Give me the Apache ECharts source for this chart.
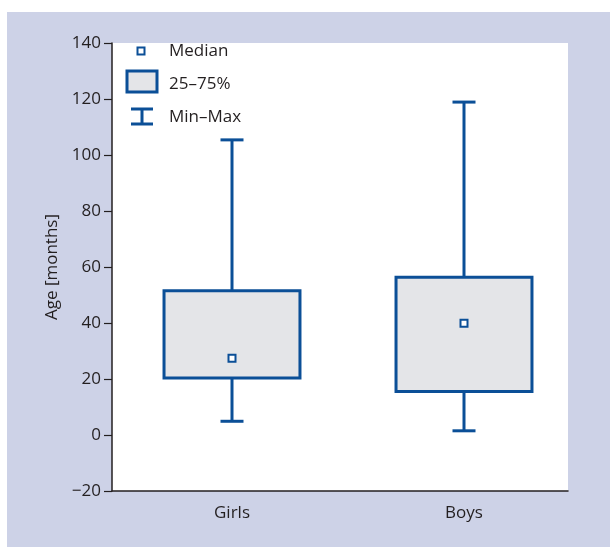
<!DOCTYPE html>
<html>
<head>
<meta charset="utf-8">
<script src="https://cdn.jsdelivr.net/npm/echarts@6/dist/echarts.min.js"></script>
<style>
  html, body { margin: 0; padding: 0; background: #fff; }
  #box { width: 610px; height: 547px; }
</style>
</head>
<body>
<div id="box"></div>
<script>
// data
var groups = ['Girls', 'Boys'];
var minVals = [4.9, 1.5];
var q1Vals = [20.4, 15.5];
var medianVals = [27.4, 39.9];
var q3Vals = [51.5, 56.3];
var maxVals = [105.4, 118.9];
var yTicks = { min: -20, max: 140, step: 20 };

var blue = '#0b4f97';
var fill = '#e4e5e8';
var ink = '#231f20';
var font = 'Open Sans';

var boxData = groups.map(function (g, i) {
    return [i, minVals[i], q1Vals[i], medianVals[i], q3Vals[i], maxVals[i]];
});

function renderBox(params, api) {
    var x = api.value(0);
    var band = api.size([1, 0])[0];
    var half = band * 0.293;
    var cap = 11.5;
    var pMin = api.coord([x, api.value(1)]);
    var pQ1 = api.coord([x, api.value(2)]);
    var pMed = api.coord([x, api.value(3)]);
    var pQ3 = api.coord([x, api.value(4)]);
    var pMax = api.coord([x, api.value(5)]);
    var cx = pMed[0];
    var line = { stroke: blue, lineWidth: 3 };
    return {
        type: 'group',
        children: [
            { type: 'line', shape: { x1: cx, y1: pQ3[1], x2: cx, y2: pMax[1] }, style: line },
            { type: 'line', shape: { x1: cx, y1: pQ1[1], x2: cx, y2: pMin[1] }, style: line },
            { type: 'line', shape: { x1: cx - cap, y1: pMax[1], x2: cx + cap, y2: pMax[1] }, style: line },
            { type: 'line', shape: { x1: cx - cap, y1: pMin[1], x2: cx + cap, y2: pMin[1] }, style: line },
            { type: 'rect', shape: { x: cx - half, y: pQ3[1], width: half * 2, height: pQ1[1] - pQ3[1] },
              style: { fill: fill, stroke: blue, lineWidth: 3 } },
            { type: 'rect', shape: { x: cx - 3.5, y: pMed[1] - 3.5, width: 7, height: 7 },
              style: { fill: '#fff', stroke: blue, lineWidth: 2 } }
        ]
    };
}

var chart = echarts.init(document.getElementById('box'));

chart.setOption({
    backgroundColor: '#cdd2e7',
    animation: false,
    textStyle: { fontFamily: font },
    grid: [
        { left: 112, right: 42, top: 43, bottom: 56, show: true, backgroundColor: '#fff', borderWidth: 0 },
        { left: 116, right: 30, top: 43, bottom: 56 }
    ],
    xAxis: [
        {
            gridIndex: 0, type: 'value', min: 0, max: 1,
            axisLine: { show: true, onZero: false, lineStyle: { color: ink, width: 1.5 } },
            axisTick: { show: false }, axisLabel: { show: false }, splitLine: { show: false }
        },
        {
            gridIndex: 1, type: 'category', data: groups,
            axisLine: { show: false }, axisTick: { show: false }, splitLine: { show: false },
            axisLabel: { color: ink, fontSize: 17, margin: 14, fontFamily: font }
        }
    ],
    yAxis: [
        {
            gridIndex: 0, type: 'value', min: yTicks.min, max: yTicks.max, interval: yTicks.step,
            name: 'Age [months]', nameLocation: 'middle', nameGap: 49,
            nameTextStyle: { color: ink, fontSize: 17, fontFamily: font },
            axisLine: { show: true, onZero: false, lineStyle: { color: ink, width: 1.5 } },
            axisTick: { show: true, length: 8, lineStyle: { color: ink, width: 1.2 } },
            axisLabel: {
                color: ink, fontSize: 17, margin: 11, fontFamily: font,
                formatter: function (v) { return v < 0 ? '\u2212' + Math.abs(v) : String(v); }
            },
            splitLine: { show: false }
        },
        {
            gridIndex: 1, type: 'value', min: yTicks.min, max: yTicks.max, show: false
        }
    ],
    graphic: [
        // white margin strips
        { type: 'rect', left: 0, top: 0, shape: { width: 610, height: 12 }, style: { fill: '#fff' } },
        { type: 'rect', left: 0, top: 0, shape: { width: 7, height: 547 }, style: { fill: '#fff' } },
        // legend
        { type: 'rect', z: 100, shape: { x: 137.5, y: 47.5, width: 7, height: 7 },
          style: { fill: '#fff', stroke: blue, lineWidth: 2 } },
        { type: 'text', z: 100, x: 169, y: 51,
          style: { text: 'Median', fill: ink, font: '17px "Open Sans"', verticalAlign: 'middle' } },
        { type: 'rect', z: 100, shape: { x: 127, y: 71, width: 30, height: 21 },
          style: { fill: fill, stroke: blue, lineWidth: 3 } },
        { type: 'text', z: 100, x: 169, y: 84,
          style: { text: '25\u201375%', fill: ink, font: '17px "Open Sans"', verticalAlign: 'middle' } },
        { type: 'line', z: 100, shape: { x1: 131, y1: 109, x2: 153, y2: 109 }, style: { stroke: blue, lineWidth: 3 } },
        { type: 'line', z: 100, shape: { x1: 131, y1: 124, x2: 153, y2: 124 }, style: { stroke: blue, lineWidth: 3 } },
        { type: 'line', z: 100, shape: { x1: 142, y1: 109, x2: 142, y2: 124 }, style: { stroke: blue, lineWidth: 3 } },
        { type: 'text', z: 100, x: 169, y: 117,
          style: { text: 'Min\u2013Max', fill: ink, font: '17px "Open Sans"', verticalAlign: 'middle' } }
    ],
    series: [
        {
            type: 'custom',
            xAxisIndex: 1,
            yAxisIndex: 1,
            renderItem: renderBox,
            encode: { x: 0, y: [1, 2, 3, 4, 5] },
            data: boxData
        }
    ]
});
</script>
</body>
</html>
